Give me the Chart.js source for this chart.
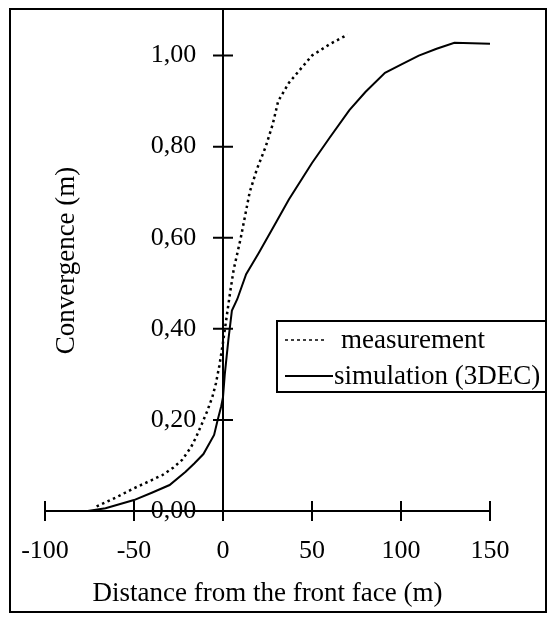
<!DOCTYPE html>
<html lang="en">
  <head>
    <meta charset="utf-8" />
    <title>Convergence</title>
    <script src="https://cdn.jsdelivr.net/npm/chart.js"></script>
    <style>
      html, body { margin: 0; padding: 0; background: #fff; }
    </style>
  </head>
  <body>
    <canvas id="myChart" width="549" height="617"></canvas>
    <script>
      // tick values
      const xTicks = [-100, -50, 0, 50, 100, 150];
      const yTicks = [0, 0.2, 0.4, 0.6, 0.8, 1.0];

      // measured convergence (dotted)
      const measX = [-71, -60, -50, -40, -34, -28, -23, -18, -15, -12, -9, -6, -4, -2, 0, 2, 4, 6, 10, 15, 19, 24, 28, 31, 37, 45, 50, 60, 70];
      const measY = [0.01, 0.03, 0.05, 0.068, 0.079, 0.095, 0.112, 0.14, 0.163, 0.19, 0.218, 0.25, 0.28, 0.32, 0.37, 0.425, 0.48, 0.53, 0.6, 0.7, 0.75, 0.8, 0.85, 0.9, 0.94, 0.977, 1.0, 1.025, 1.046];

      // 3DEC simulation (solid)
      const simX = [-76, -66, -50, -40, -30, -21, -16, -11, -5, -3, -1, 0, 1, 3, 5, 8, 13, 20, 30, 37, 50, 60, 71, 80, 91, 100, 110, 120, 130, 150];
      const simY = [0, 0.006, 0.024, 0.04, 0.057, 0.086, 0.105, 0.125, 0.167, 0.2, 0.23, 0.25, 0.3, 0.375, 0.44, 0.465, 0.52, 0.566, 0.635, 0.684, 0.764, 0.82, 0.88, 0.92, 0.962, 0.98, 1.0, 1.015, 1.028, 1.026];

      const serif = "'Liberation Serif', 'Times New Roman', serif";
      const toPoints = (xs, ys) => xs.map((v, i) => ({ x: v, y: ys[i] }));
      const fmt = (v) => v.toFixed(2).replace(".", ",");

      // axes crossing at 0 with cross ticks, frame, y title and legend box
      const decor = {
        id: "decor",
        beforeDraw(chart) {
          const ctx = chart.ctx;
          ctx.save();
          ctx.strokeStyle = "#000";
          ctx.lineWidth = 2;
          ctx.strokeRect(10, 9, 536, 603);
          ctx.restore();
        },
        beforeDatasetsDraw(chart) {
          const { ctx, scales: { x, y }, chartArea } = chart;
          const x0 = x.getPixelForValue(0);
          const y0 = y.getPixelForValue(0);
          ctx.save();
          ctx.strokeStyle = "#000";
          ctx.lineWidth = 2;
          ctx.beginPath();
          ctx.moveTo(x.getPixelForValue(xTicks[0]), y0);
          ctx.lineTo(x.getPixelForValue(xTicks[xTicks.length - 1]), y0);
          ctx.moveTo(x0, y.getPixelForValue(y.max));
          ctx.lineTo(x0, y0 + 10);
          xTicks.forEach((v) => {
            const px = x.getPixelForValue(v);
            ctx.moveTo(px, y0 - 10);
            ctx.lineTo(px, y0 + 10);
          });
          yTicks.forEach((v) => {
            if (v === 0) return;
            const py = y.getPixelForValue(v);
            ctx.moveTo(x0 - 10, py);
            ctx.lineTo(x0 + 10, py);
          });
          ctx.stroke();

          // y axis title
          ctx.fillStyle = "#000";
          ctx.font = "27px " + serif;
          ctx.textAlign = "center";
          ctx.textBaseline = "middle";
          ctx.translate(chartArea.left + 22, (chartArea.top + chartArea.bottom) / 2);
          ctx.rotate(-Math.PI / 2);
          ctx.fillText("Convergence (m)", 0, 0);
          ctx.restore();
        },
        afterDraw(chart) {
          const ctx = chart.ctx;
          const sets = chart.data.datasets;
          ctx.save();
          ctx.fillStyle = "#fff";
          ctx.fillRect(277, 321, 269, 71);
          ctx.strokeStyle = "#000";
          ctx.lineWidth = 2;
          ctx.strokeRect(277, 321, 269, 71);
          ctx.font = "27px " + serif;
          ctx.textAlign = "left";
          ctx.textBaseline = "middle";
          ctx.fillStyle = "#000";
          const rows = [
            { y: 340, lineEnd: 327, textX: 341 },
            { y: 376, lineEnd: 333, textX: 334 },
          ];
          sets.forEach((ds, i) => {
            const r = rows[i];
            ctx.beginPath();
            ctx.lineWidth = ds.borderDash.length ? 1.5 : 2;
            ctx.setLineDash(ds.borderDash.length ? [3, 3] : []);
            ctx.moveTo(285, r.y);
            ctx.lineTo(r.lineEnd, r.y);
            ctx.stroke();
            ctx.fillText(ds.label, r.textX, r.y + 1);
          });
          ctx.restore();
        },
      };

      const myChart = new Chart(document.getElementById("myChart"), {
        type: "scatter",
        data: {
          datasets: [
            {
              label: "measurement",
              data: toPoints(measX, measY),
              showLine: true,
              borderColor: "#000",
              borderWidth: 2.5,
              borderDash: [2.5, 3.5],
              pointRadius: 0,
              tension: 0,
            },
            {
              label: "simulation (3DEC)",
              data: toPoints(simX, simY),
              showLine: true,
              borderColor: "#000",
              borderWidth: 2,
              borderDash: [],
              pointRadius: 0,
              tension: 0,
            },
          ],
        },
        options: {
          responsive: false,
          devicePixelRatio: 1,
          animation: false,
          layout: {
            autoPadding: false,
            padding: { left: 45, right: 59, top: 10, bottom: 106 },
          },
          plugins: { legend: { display: false }, tooltip: { enabled: false } },
          scales: {
            x: {
              type: "linear",
              min: -100,
              max: 150,
              position: { y: 0 },
              grid: { display: false },
              border: { display: false },
              afterBuildTicks: (scale) => {
                scale.ticks = xTicks.map((v) => ({ value: v }));
              },
              ticks: {
                color: "#000",
                font: { family: serif, size: 26 },
                padding: 17,
                maxRotation: 0,
              },
              title: {
                display: true,
                text: "Distance from the front face (m)",
                color: "#000",
                font: { family: serif, size: 27 },
                padding: { top: -6, bottom: 0 },
              },
            },
            y: {
              type: "linear",
              min: 0,
              max: 1.1,
              // labels sit left of the x=0 axis line, which the plugin draws
              position: { x: -15 },
              grid: { display: false },
              border: { display: false },
              afterBuildTicks: (scale) => {
                scale.ticks = yTicks.map((v) => ({ value: v }));
              },
              afterFit: (scale) => {
                scale.paddingTop = 0;
              },
              ticks: {
                color: "#000",
                font: { family: serif, size: 26 },
                callback: (v) => fmt(v),
              },
            },
          },
        },
        plugins: [decor],
      });
    </script>
  </body>
</html>
